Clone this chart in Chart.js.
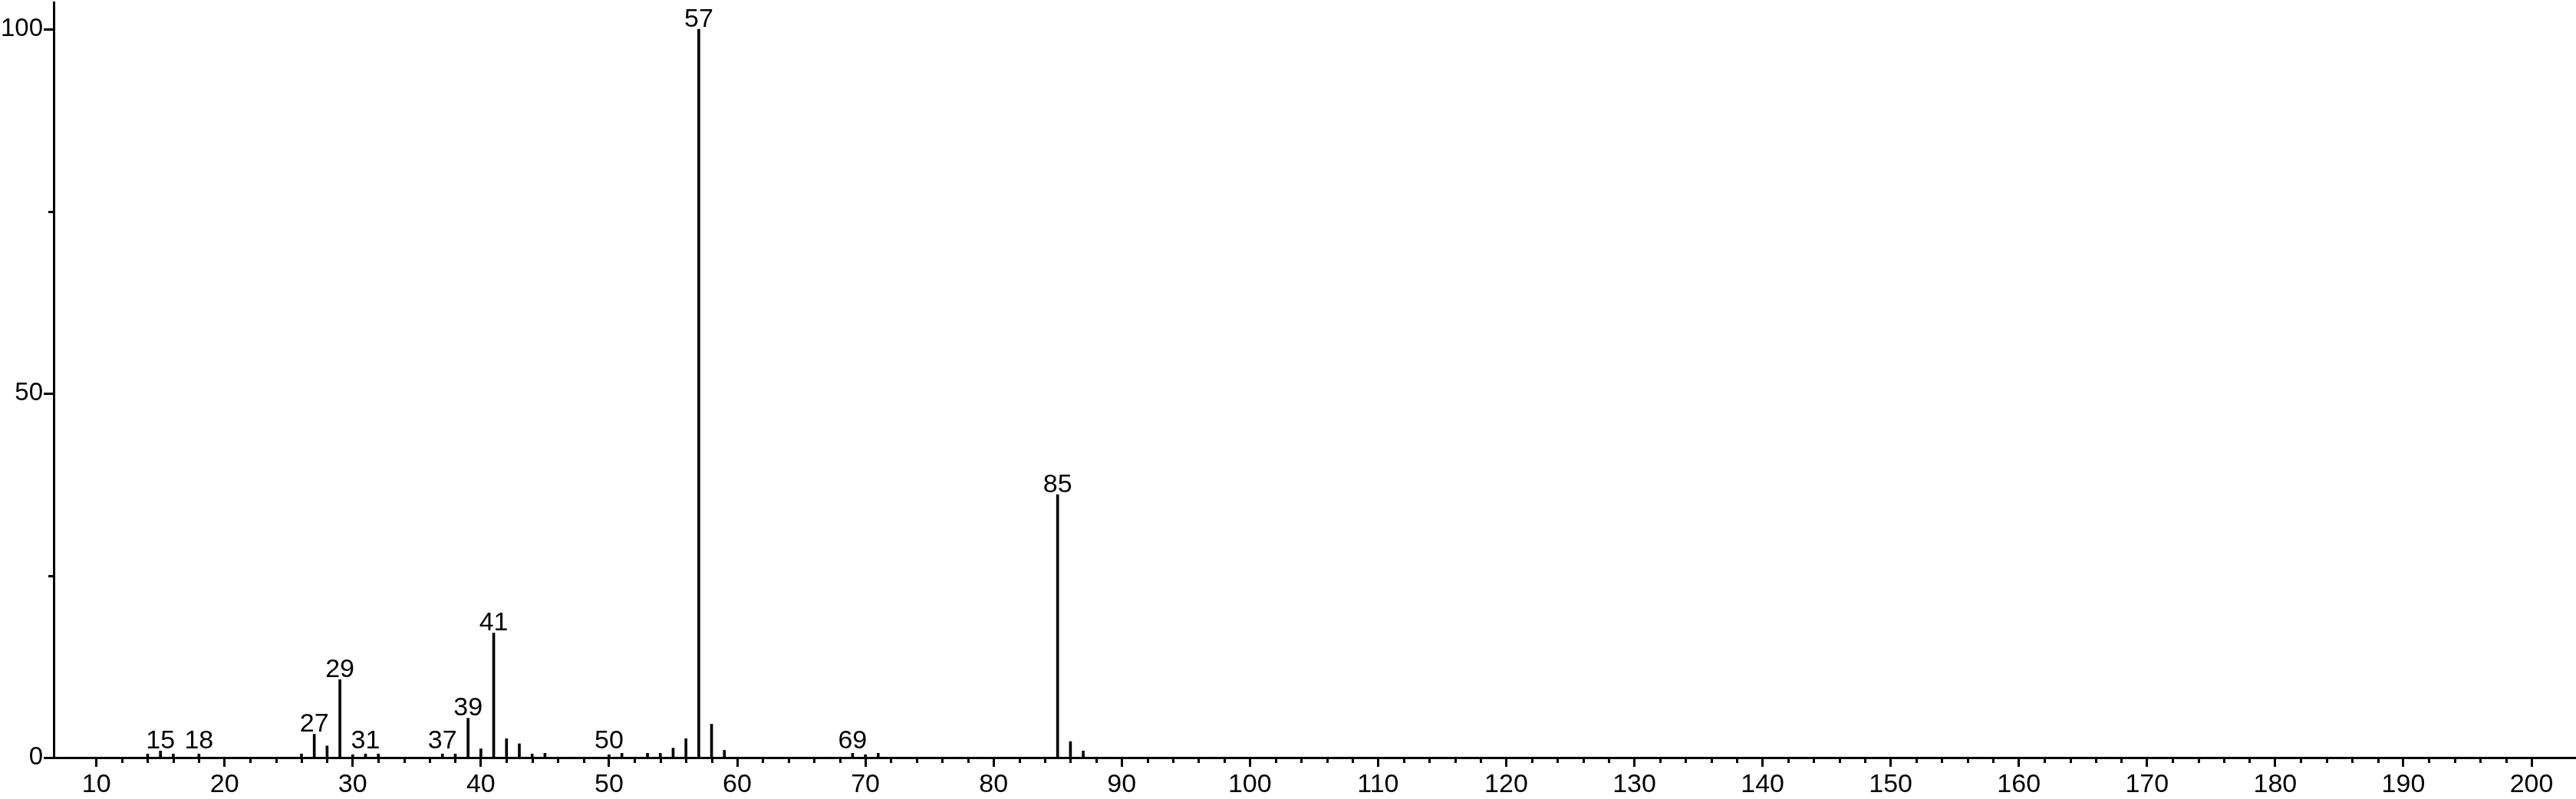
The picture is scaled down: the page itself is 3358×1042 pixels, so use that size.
<!DOCTYPE html>
<html>
<head>
<meta charset="utf-8">
<title>Mass spectrum</title>
<script src="https://cdn.jsdelivr.net/npm/chart.js@4.4.1/dist/chart.umd.min.js"></script>
<style>
  html, body { margin: 0; padding: 0; background: #fff; }
  #wrap { width: 3358px; height: 1042px; }
</style>
</head>
<body>
<div id="wrap"><canvas id="myChart"></canvas></div>
<script>
// m/z of every peak
const mz = [14, 15, 16, 18, 26, 27, 28, 29, 30, 31, 32, 37, 38, 39, 40, 41, 42, 43, 44, 45,
            50, 51, 53, 54, 55, 56, 57, 58, 59, 69, 70, 71, 85, 86, 87];
// relative intensity (%)
const intensity = [0.5, 0.9, 0.5, 0.5, 0.5, 3.2, 1.6, 10.7, 0.4, 0.5, 0.5, 0.5, 0.5, 5.4, 1.2, 17.1, 2.6, 1.9, 0.5, 0.6,
                   0.4, 0.6, 0.6, 0.6, 1.3, 2.6, 100, 4.6, 1.0, 0.6, 0.4, 0.6, 36.1, 2.2, 0.9];
// peaks with a number on top
const labeledPeaks = [15, 18, 27, 29, 31, 37, 39, 41, 50, 57, 69, 85];
// labelled ticks
const xLabelTicks = [10, 20, 30, 40, 50, 60, 70, 80, 90, 100, 110, 120, 130, 140, 150, 160, 170, 180, 190, 200];
const yLabelTicks = [0, 50, 100];

const FONT = "'Liberation Sans', Arial, Helvetica, sans-serif";

// short (unlabelled) ticks and the peak numbers
const spectrumMarks = {
  id: 'spectrumMarks',
  afterDraw(chart) {
    const ctx = chart.ctx;
    const xs = chart.scales.x;
    const ys = chart.scales.y;
    const area = chart.chartArea;

    ctx.save();
    ctx.strokeStyle = '#000';
    ctx.lineWidth = 3;
    ctx.beginPath();
    xs.ticks.forEach(function(t) {
      if (xLabelTicks.includes(t.value)) return;
      const px = Math.round(xs.getPixelForValue(t.value)) + 0.5;
      ctx.moveTo(px, area.bottom);
      ctx.lineTo(px, area.bottom + 7);
    });
    ys.ticks.forEach(function(t) {
      if (yLabelTicks.includes(t.value)) return;
      const py = Math.round(ys.getPixelForValue(t.value)) + 0.5;
      ctx.moveTo(area.left, py);
      ctx.lineTo(area.left - 7, py);
    });
    ctx.stroke();

    ctx.fillStyle = '#000';
    ctx.font = '34px ' + FONT;
    ctx.textAlign = 'center';
    ctx.textBaseline = 'alphabetic';
    const base = ys.getPixelForValue(0);
    labeledPeaks.forEach(function(m) {
      const i = mz.indexOf(m);
      const top = ys.getPixelForValue(intensity[i]);
      const y = Math.min(top - 3.5, base - 12);
      ctx.fillText(String(m), xs.getPixelForValue(m), y);
    });
    ctx.restore();
  }
};

const ctx = document.getElementById('myChart');

new Chart(ctx, {
  type: 'bar',
  data: {
    datasets: [{
      data: mz.map(function(m, i) { return { x: m, y: intensity[i] }; }),
      backgroundColor: '#000',
      borderWidth: 0,
      barThickness: 3
    }]
  },
  options: {
    responsive: true,
    maintainAspectRatio: false,
    animation: false,
    layout: { padding: { top: 3, right: 0, bottom: 0, left: 0 } },
    plugins: {
      legend: { display: false },
      tooltip: { enabled: false }
    },
    scales: {
      x: {
        type: 'linear',
        min: 6.67,
        max: 203.47,
        offset: false,
        grid: {
          offset: false,
          drawOnChartArea: false,
          drawTicks: true,
          tickLength: 12,
          tickWidth: 3,
          tickColor: function(c) { return xLabelTicks.includes(c.tick.value) ? '#000' : 'rgba(0,0,0,0)'; }
        },
        border: { display: true, color: '#000', width: 3 },
        ticks: {
          stepSize: 2,
          includeBounds: false,
          autoSkip: false,
          maxRotation: 0,
          minRotation: 0,
          padding: 3,
          color: '#000',
          font: { family: FONT, size: 34 },
          callback: function(v) { return xLabelTicks.includes(v) ? String(v) : ''; }
        },
        afterBuildTicks: function(s) {
          s.ticks = s.ticks.filter(function(t) { return t.value >= 10 && t.value <= 200; });
        },
        afterFit: function(s) { s.height = 54; s.paddingLeft = 0; s.paddingRight = 0; }
      },
      y: {
        type: 'linear',
        min: 0,
        max: 103.7,
        grid: {
          drawOnChartArea: false,
          drawTicks: true,
          tickLength: 13,
          tickWidth: 3,
          tickColor: function(c) { return yLabelTicks.includes(c.tick.value) ? '#000' : 'rgba(0,0,0,0)'; }
        },
        border: { display: true, color: '#000', width: 3 },
        ticks: {
          stepSize: 25,
          includeBounds: false,
          padding: 1,
          color: '#000',
          font: { family: FONT, size: 33 },
          callback: function(v) { return yLabelTicks.includes(v) ? String(v) : ''; }
        },
        afterFit: function(s) { s.width = 70; s.paddingTop = 0; s.paddingBottom = 0; }
      }
    }
  },
  plugins: [spectrumMarks]
});
</script>
</body>
</html>
